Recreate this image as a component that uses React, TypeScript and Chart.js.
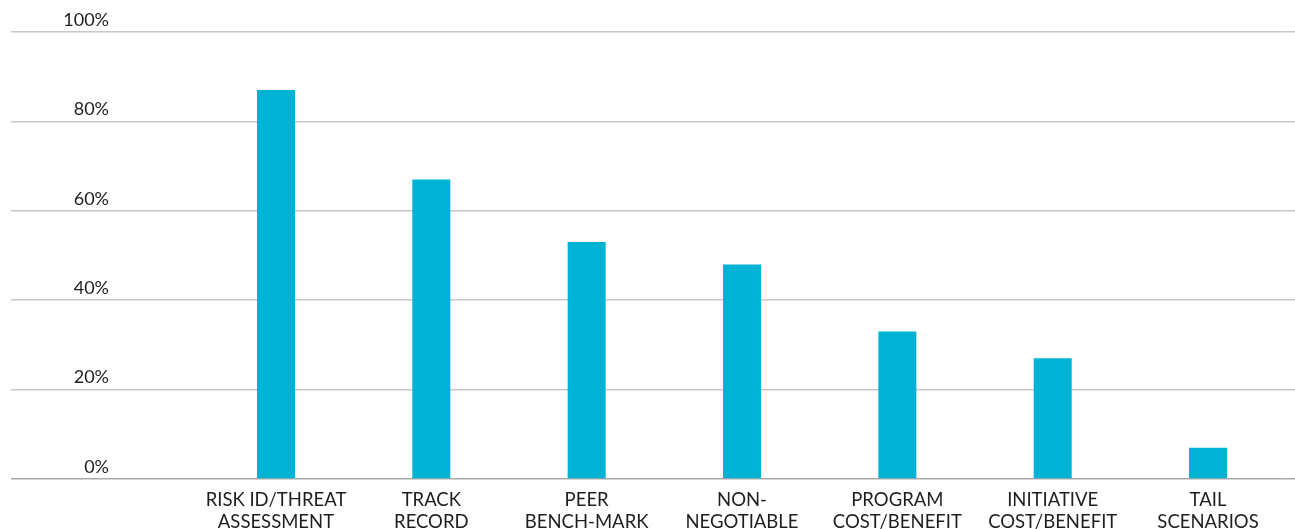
import React, { useEffect, useRef } from "react";
import { Chart, registerables } from "chart.js";

Chart.register(...registerables);

const categories: string[][] = [
  ["RISK ID/THREAT", "ASSESSMENT"],
  ["TRACK", "RECORD"],
  ["PEER", "BENCH-MARK"],
  ["NON-", "NEGOTIABLE"],
  ["PROGRAM", "COST/BENEFIT"],
  ["INITIATIVE", "COST/BENEFIT"],
  ["TAIL", "SCENARIOS"],
];
const values: number[] = [87, 67, 53, 48, 33, 27, 7];
const yMin = 0;
const yMax = 100;
const yStep = 20;
const tickSuffix = "%";

const FONT = "Lato, 'Open Sans', sans-serif";

export default function App() {
  const ref = useRef<HTMLCanvasElement | null>(null);

  useEffect(() => {
    if (!ref.current) return;
    const gridColor = (ctx: any) => (ctx.tick && ctx.tick.value === 0 ? "#a9a9a9" : "#c8c8c8");
    const chart = new Chart(ref.current, {
      type: "bar",
      data: {
        labels: categories,
        datasets: [
          {
            data: values,
            backgroundColor: "#00b2d4",
            borderWidth: 0,
            barPercentage: 38 / 155.33,
            categoryPercentage: 1,
          },
        ],
      },
      options: {
        animation: false,
        responsive: true,
        maintainAspectRatio: false,
        layout: { padding: { left: 11, right: 0, top: 32, bottom: 0 } },
        plugins: { legend: { display: false }, tooltip: { enabled: false } },
        scales: {
          x: {
            grid: { display: false, drawTicks: false },
            border: { display: false },
            ticks: {
              color: "#1e1e1e",
              font: { family: FONT, size: 18.5, lineHeight: 1.2 },
              padding: 10,
              maxRotation: 0,
              autoSkip: false,
            },
            afterFit: (s: any) => {
              s.height = 50;
            },
          },
          y: {
            position: "left",
            min: yMin,
            max: yMax,
            border: { display: false },
            grid: { color: gridColor, lineWidth: 1.5, drawTicks: true, tickLength: 187.3 },
            ticks: {
              stepSize: yStep,
              color: "#1e1e1e",
              font: { family: FONT, size: 18 },
              padding: -98,
              align: "end",
              labelOffset: -3,
              callback: (v: any) => `${v}${tickSuffix}`,
            },
            afterFit: (s: any) => {
              s.width = 187.3;
            },
          },
          y2: {
            position: "right",
            min: yMin,
            max: yMax,
            border: { display: false },
            grid: { color: gridColor, lineWidth: 1.5, drawOnChartArea: false, drawTicks: true, tickLength: 9.3 },
            ticks: { display: false, stepSize: yStep },
            afterFit: (s: any) => {
              s.width = 9.3;
            },
          },
        },
      },
    });
    return () => chart.destroy();
  }, []);

  return (
    <div style={{ position: "fixed", left: 0, top: 0, width: 1295, height: 529, background: "#fff" }}>
      <canvas ref={ref} />
    </div>
  );
}
